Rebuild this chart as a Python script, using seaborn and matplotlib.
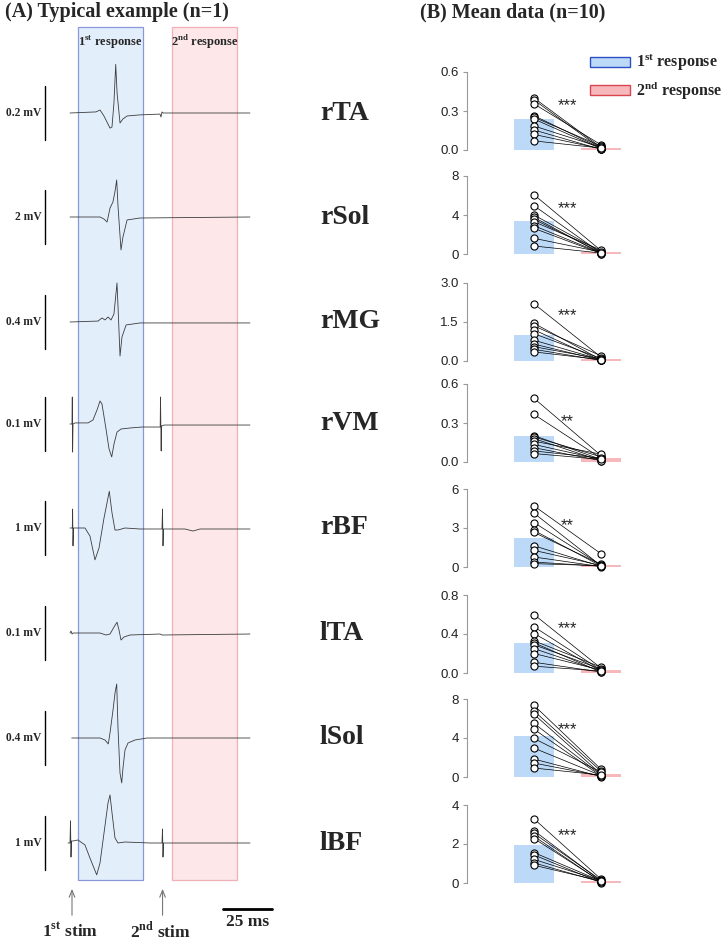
import seaborn as sns
import matplotlib.pyplot as plt
from matplotlib.patches import Rectangle, Patch
import numpy as np
import pandas as pd

# muscles, calibrations, axis ranges
muscles = ["rTA", "rSol", "rMG", "rVM", "rBF", "lTA", "lSol", "lBF"]
cal_mv = [0.2, 2, 0.4, 0.1, 1, 0.1, 0.4, 1]
cal_label = ["0.2 mV", "2 mV", "0.4 mV", "0.1 mV", "1 mV", "0.1 mV", "0.4 mV", "1 mV"]
y_max = [0.6, 8, 3.0, 0.6, 6, 0.8, 8, 4]
tick_fmt = ["{:.1f}", "{:.0f}", "{:.1f}", "{:.1f}", "{:.0f}", "{:.1f}", "{:.0f}", "{:.0f}"]
stars = ["***", "***", "***", "**", "**", "***", "***", "***"]

# (B) peak-to-peak amplitudes (mV), n=10, paired 1st / 2nd response
rTA_1st = [0.40, 0.385, 0.355, 0.264, 0.252, 0.238, 0.185, 0.154, 0.12, 0.07]
rTA_2nd = [0.02, 0.01, 0.04, 0.015, 0.03, 0.01, 0.02, 0.005, 0.01, 0.015]
rSol_1st = [6.08, 4.95, 4.0, 3.76, 3.56, 3.31, 2.9, 2.63, 1.61, 0.82]
rSol_2nd = [0.35, 0.1, 0.25, 0.05, 0.15, 0.4, 0.1, 0.05, 0.2, 0.1]
rMG_1st = [2.2, 1.45, 1.35, 1.2, 1.05, 0.8, 0.65, 0.55, 0.45, 0.35]
rMG_2nd = [0.15, 0.05, 0.2, 0.02, 0.1, 0.05, 0.03, 0.08, 0.02, 0.05]
rVM_1st = [0.49, 0.366, 0.203, 0.193, 0.18, 0.16, 0.135, 0.11, 0.085, 0.065]
rVM_2nd = [0.05, 0.03, 0.02, 0.04, 0.01, 0.06, 0.02, 0.01, 0.03, 0.02]
rBF_1st = [4.7, 4.14, 3.42, 2.81, 2.66, 1.63, 1.28, 0.77, 0.38, 0.26]
rBF_2nd = [1.02, 0.1, 0.15, 0.08, 0.2, 0.05, 0.12, 0.03, 0.06, 0.1]
lTA_1st = [0.60, 0.474, 0.405, 0.33, 0.31, 0.29, 0.25, 0.2, 0.11, 0.07]
lTA_2nd = [0.05, 0.03, 0.02, 0.06, 0.01, 0.04, 0.02, 0.03, 0.01, 0.02]
lSol_1st = [7.35, 6.77, 6.43, 5.51, 4.9, 3.95, 2.96, 1.84, 1.43, 0.92]
lSol_2nd = [0.8, 0.6, 0.3, 0.2, 0.1, 0.5, 0.15, 0.05, 0.1, 0.2]
lBF_1st = [3.29, 2.68, 2.54, 2.4, 2.28, 1.56, 1.44, 1.21, 1.03, 0.91]
lBF_2nd = [0.2, 0.1, 0.15, 0.05, 0.08, 0.1, 0.02, 0.12, 0.05, 0.1]

# (A) single subject EMG traces: time (ms from 1st stim) and voltage (mV)
rTA_t = [-1.0, 12.2, 14.3, 16.3, 19.4, 20.4, 21.4, 22.3, 23.0, 24.5, 26.0, 28.1, 34.7, 44.9, 45.4, 45.9, 46.4, 90.8]
rTA_v = [0, 0.004, 0.011, -0.011, -0.056, -0.052, 0.037, 0.18, 0.074, -0.037, -0.022, -0.011, -0.007, -0.004, -0.015, 0.004, 0, 0]
rSol_t = [-1.0, 14.3, 16.3, 17.9, 19.4, 20.9, 21.9, 22.8, 23.5, 25.0, 26.0, 28.1, 34.7, 90.8]
rSol_v = [0, 0, -0.074, -0.185, 0.33, 0.56, 0.93, 1.37, 0.37, -1.22, -0.74, -0.11, -0.037, 0]
rMG_t = [-1.0, 13.3, 15.3, 16.8, 18.4, 19.9, 21.4, 22.96, 23.7, 24.5, 25.5, 27.6, 34.7, 46.4, 90.8]
rMG_v = [0, 0.007, 0.03, 0.015, 0.037, 0.015, 0.059, 0.289, 0.037, -0.252, -0.111, -0.022, -0.007, -0.007, -0.007]
rVM_t = [-1.02, 0, 0.15, 0.31, 0.51, 1.53, 8.16, 10.7, 12.76, 14.29, 15.3, 17.35, 18.88, 20.26, 21.43, 22.96, 25.0,
         29.6, 35.7, 45.0, 45.15, 45.5, 45.66, 47.0, 90.8]
rVM_v = [0, 0, 0.05, -0.052, 0, 0.002, 0.002, 0.0074, 0.026, 0.0426, 0.037, -0.0093, -0.046, -0.061, -0.037, -0.015,
         -0.0093, -0.0074, -0.0056, -0.0056, 0.05, -0.05, -0.0037, -0.0019, -0.0019]
rBF_t = [-1.02, 0.15, 0.31, 0.51, 0.77, 6.63, 9.18, 11.73, 13.78, 16.33, 19.03, 20.41, 21.94, 23.47, 27.04, 34.69,
         45.92, 46.17, 46.43, 46.68, 57.65, 61.73, 65.31, 90.82]
rBF_v = [0, 0, 0.35, -0.33, 0, 0, -0.15, -0.59, -0.37, 0.185, 0.68, 0.28, -0.037, -0.037, 0, -0.0185,
         -0.0185, 0.35, -0.33, -0.0185, -0.0185, -0.056, -0.0185, -0.0185]
lTA_t = [-1.02, -0.51, 0, 0.51, 14.29, 17.35, 19.39, 21.43, 22.96, 23.98, 25.0, 26.53, 29.59, 44.9, 45.9, 90.8]
lTA_v = [0, 0.0037, -0.0019, 0, 0, -0.0037, -0.0019, 0.011, 0.02, 0.0056, -0.013, -0.0074, -0.0037, -0.0019, -0.0037, -0.0019]
lSol_t = [-0.15, 14.29, 16.84, 18.52, 19.39, 20.92, 21.94, 22.81, 23.47, 24.49, 25.36, 26.02, 27.04, 28.57, 32.14, 38.27, 90.82]
lSol_v = [0, 0, -0.015, -0.044, 0.037, 0.207, 0.333, 0.4, 0.074, -0.26, -0.333, -0.222, -0.089, -0.037, -0.015, 0, 0]
lBF_t = [-2.04, -1.02, -0.77, -0.51, -0.26, 0.51, 3.06, 6.63, 9.18, 12.6, 14.29, 16.33, 18.37, 19.39, 20.41, 21.94,
         23.47, 27.04, 39.8, 45.92, 46.17, 46.43, 46.68, 90.82]
lBF_v = [0, 0, 0.41, -0.26, 0.037, 0.037, 0.056, -0.037, -0.28, -0.59, -0.37, 0.185, 0.74, 0.89, 0.56, 0.093,
         0, 0.0185, 0, 0, 0.26, -0.26, 0, 0]

first = dict(rTA=rTA_1st, rSol=rSol_1st, rMG=rMG_1st, rVM=rVM_1st, rBF=rBF_1st, lTA=lTA_1st, lSol=lSol_1st, lBF=lBF_1st)
second = dict(rTA=rTA_2nd, rSol=rSol_2nd, rMG=rMG_2nd, rVM=rVM_2nd, rBF=rBF_2nd, lTA=lTA_2nd, lSol=lSol_2nd, lBF=lBF_2nd)
traces = dict(rTA=(rTA_t, rTA_v), rSol=(rSol_t, rSol_v), rMG=(rMG_t, rMG_v), rVM=(rVM_t, rVM_v),
              rBF=(rBF_t, rBF_v), lTA=(lTA_t, lTA_v), lSol=(lSol_t, lSol_v), lBF=(lBF_t, lBF_v))

sns.set_style("white")
plt.rcParams["font.family"] = ["Liberation Serif", "DejaVu Serif"]
plt.rcParams["mathtext.fontset"] = "custom"
plt.rcParams["mathtext.rm"] = "Liberation Serif:bold"
plt.rcParams["mathtext.bf"] = "Liberation Serif:bold"

W, H = 726, 943
fig = plt.figure(figsize=(W / 100, H / 100), dpi=100)

blue_bar, pink_bar = "#bcd9f8", "#f7b8bc"
blue_win, pink_win = "#e3eefb", "#fde7e9"
blue_edge, pink_edge = "#8a97d8", "#f2b0b6"

# ---- (A) traces: x in ms, y in pixel rows
px_ms = 1.96
stim_px = 72
base_y = [113, 217, 322, 424, 528, 633, 738, 843]
bar_half = 27

axA = fig.add_axes([0, 0, 1, 1])
axA.set_xlim(-stim_px / px_ms, (W - stim_px) / px_ms)
axA.set_ylim(H, 0)
axA.axis("off")

axA.add_patch(Rectangle((3, 27), 33, 853, fc=blue_win, ec=blue_edge, lw=0.9, zorder=0))
axA.add_patch(Rectangle((51, 27), 33, 853, fc=pink_win, ec=pink_edge, lw=0.9, zorder=0))
axA.text(19.5, 42, "1$^{\\mathbf{st}}$ response", ha="center", va="center", fontsize=9, fontweight="bold")
axA.text(68, 42, "2$^{\\mathbf{nd}}$ response", ha="center", va="center", fontsize=9, fontweight="bold")

for i, m in enumerate(muscles):
    t, v = traces[m]
    y = base_y[i] - np.array(v) * (2 * bar_half) / cal_mv[i]
    sns.lineplot(x=t, y=y, ax=axA, color="#3c3c3c", lw=0.6, sort=False, estimator=None)
    axA.plot([-13.8, -13.8], [base_y[i] - bar_half, base_y[i] + bar_half], color="k", lw=1)
    axA.text(-15.6, base_y[i], cal_label[i], ha="right", va="center", fontsize=8.3, fontweight="bold")
    axA.text(126.5, base_y[i], m, ha="left", va="center", fontsize=20, fontweight="bold")

for x, lbl in [(0, "1$^{\\mathbf{st}}$ stim"), (46.2, "2$^{\\mathbf{nd}}$ stim")]:
    axA.annotate("", xy=(x, 886), xytext=(x, 918),
                 arrowprops=dict(arrowstyle="->,head_length=0.5,head_width=0.2", color="#777", lw=0.8))
    axA.text(x - 1, 931, lbl, ha="center", va="center", fontsize=12.5, fontweight="bold")
axA.plot([77, 102], [909, 909], color="k", lw=2)
axA.text(89.5, 922, "25 ms", ha="center", va="center", fontsize=12.5, fontweight="bold")

fig.text(5 / W, 1 - 12 / H, "(A) Typical example (n=1)", fontsize=14.5, fontweight="bold", va="center")
fig.text(420 / W, 1 - 12 / H, "(B) Mean data (n=10)", fontsize=14.5, fontweight="bold", va="center")

# ---- (B) bar + paired points
panel_top = [72, 176, 283, 384, 489, 595, 699, 805]
panel_h = 78
star_frac = [0.66, 0.67, 0.67, 0.6, 0.62, 0.65, 0.69, 0.69]

for i, m in enumerate(muscles):
    ax = fig.add_axes([467 / W, 1 - (panel_top[i] + panel_h) / H, 167.5 / W, panel_h / H])
    a, b = first[m], second[m]
    df = pd.DataFrame({"resp": ["1st"] * len(a) + ["2nd"] * len(b), "amp": a + b})
    sns.barplot(data=df, x="resp", y="amp", hue="resp", palette=[blue_bar, pink_bar], saturation=1,
                errorbar=None, width=0.6, legend=False, ax=ax, linewidth=0)
    for ya, yb in zip(a, b):
        ax.plot([0, 1], [ya, yb], color="k", lw=0.5, zorder=3)
    ax.scatter([0] * len(a) + [1] * len(b), a + b, s=26, facecolor="white", edgecolor="k",
               linewidths=0.8, zorder=4, clip_on=False)
    ax.annotate(stars[i], (0.5, star_frac[i]), xycoords=("data", "axes fraction"), xytext=(0, -8),
                textcoords="offset points", ha="center", va="baseline", fontsize=12, family="Liberation Sans")
    ax.set_xlim(-1, 1.5)
    ax.set_ylim(0, y_max[i])
    ticks = [0, y_max[i] / 2, y_max[i]]
    ax.set_yticks(ticks, [tick_fmt[i].format(tk) for tk in ticks], fontsize=9.5, family="Liberation Sans", color="#222")
    ax.set_xticks([])
    ax.set(xlabel="", ylabel="")
    ax.patch.set_alpha(0)
    for s in ["top", "right", "bottom"]:
        ax.spines[s].set_visible(False)
    ax.spines["left"].set_color("#999")
    ax.spines["left"].set_linewidth(0.8)
    ax.spines["left"].set_bounds(0, y_max[i])
    ax.tick_params(axis="y", left=True, length=3, width=0.8, color="#999", pad=3)

handles = [Patch(fc=blue_bar, ec="#2d4fc4", lw=1, label="1$^{\\mathbf{st}}$ response"),
           Patch(fc=pink_bar, ec="#d8454f", lw=1, label="2$^{\\mathbf{nd}}$ response")]
fig.legend(handles=handles, loc="upper left", bbox_to_anchor=(590 / W, 1 - 52 / H), frameon=False,
           prop=dict(family="Liberation Serif", weight="bold", size=11.5), handlelength=2.5, handleheight=0.62,
           handletextpad=0.4, labelspacing=0.35, borderpad=0, borderaxespad=0)

fig.savefig("out.png", dpi=100)
